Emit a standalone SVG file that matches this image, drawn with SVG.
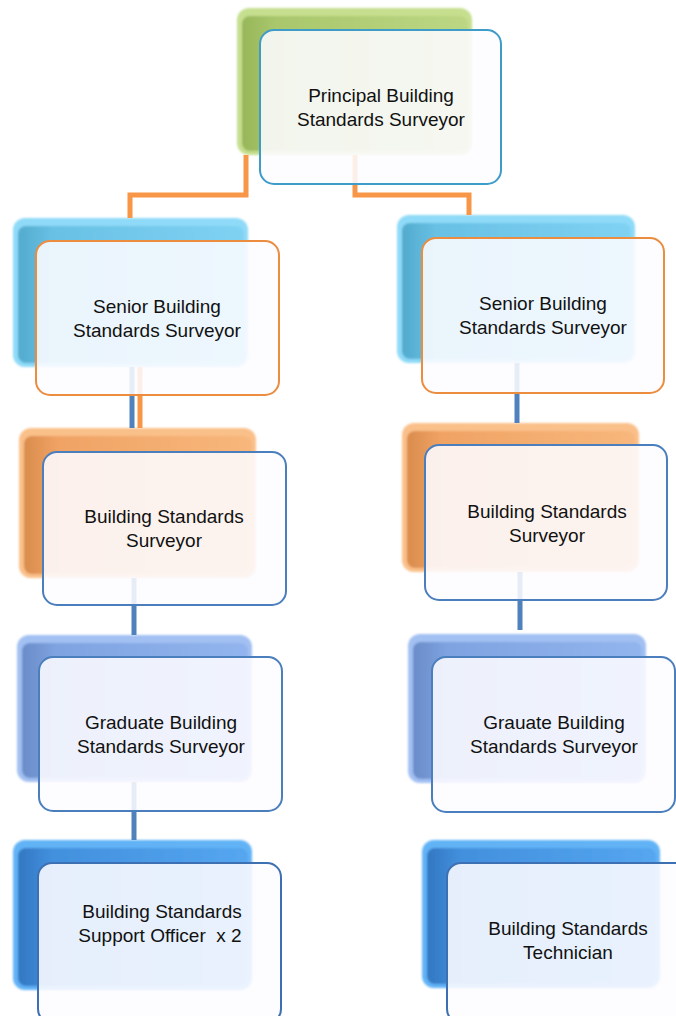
<svg xmlns="http://www.w3.org/2000/svg" width="676" height="1016" viewBox="0 0 676 1016">
<style>
.front{fill:#fdfcff;fill-opacity:0.88;stroke-width:2}
.lbl{font-family:"Liberation Sans",Arial,sans-serif;font-size:19px;fill:#111;text-anchor:middle;white-space:pre}
.c-or{stroke:#f79646;stroke-width:5;fill:none}
.c-bl{stroke:#4f81bd;stroke-width:5;fill:none}
</style>
<defs>
<filter id="soft" x="-5%" y="-5%" width="110%" height="110%"><feGaussianBlur stdDeviation="0.9"/></filter>
<linearGradient id="gGreen" x1="0" y1="0" x2="1" y2="0"><stop offset="0" stop-color="#97b65a"/><stop offset="0.15" stop-color="#a9c76c"/><stop offset="1" stop-color="#bcd784"/></linearGradient>
<linearGradient id="gSky" x1="0" y1="0" x2="1" y2="0"><stop offset="0" stop-color="#52aacd"/><stop offset="0.15" stop-color="#68c1e5"/><stop offset="1" stop-color="#80d2f3"/></linearGradient>
<linearGradient id="gOr" x1="0" y1="0" x2="1" y2="0"><stop offset="0" stop-color="#d98c4c"/><stop offset="0.15" stop-color="#f0a364"/><stop offset="1" stop-color="#f8b77c"/></linearGradient>
<linearGradient id="gPer" x1="0" y1="0" x2="1" y2="0"><stop offset="0" stop-color="#6a8cc8"/><stop offset="0.15" stop-color="#7ea3e0"/><stop offset="1" stop-color="#93b5ee"/></linearGradient>
<linearGradient id="gBlu" x1="0" y1="0" x2="1" y2="0"><stop offset="0" stop-color="#3377c2"/><stop offset="0.15" stop-color="#4290de"/><stop offset="1" stop-color="#55a6f0"/></linearGradient>
</defs>

<!-- back (decorative) boxes -->
<g id="backs" filter="url(#soft)">
<g id="back-principal"><rect x="237" y="8" width="235" height="147" rx="12" fill="#c6df8f"/><rect x="242" y="16" width="226" height="135" rx="8" fill="url(#gGreen)"/></g>
<g id="back-senior-l"><rect x="13" y="218" width="235" height="149" rx="12" fill="#8fdaf8"/><rect x="18" y="226" width="226" height="137" rx="8" fill="url(#gSky)"/></g>
<g id="back-senior-r"><rect x="397" y="215" width="238" height="148" rx="12" fill="#8fdaf8"/><rect x="402" y="223" width="229" height="136" rx="8" fill="url(#gSky)"/></g>
<g id="back-bss-l"><rect x="19" y="428" width="237" height="150" rx="12" fill="#fac08a"/><rect x="24" y="436" width="228" height="138" rx="8" fill="url(#gOr)"/></g>
<g id="back-bss-r"><rect x="402" y="423" width="237" height="149" rx="12" fill="#fac08a"/><rect x="407" y="431" width="228" height="137" rx="8" fill="url(#gOr)"/></g>
<g id="back-grad-l"><rect x="17" y="635" width="235" height="147" rx="12" fill="#a2c0f2"/><rect x="22" y="643" width="226" height="135" rx="8" fill="url(#gPer)"/></g>
<g id="back-grad-r"><rect x="408" y="634" width="238" height="149" rx="12" fill="#a2c0f2"/><rect x="413" y="642" width="229" height="137" rx="8" fill="url(#gPer)"/></g>
<g id="back-support"><rect x="13" y="840" width="239" height="150" rx="12" fill="#62b3f6"/><rect x="18" y="848" width="230" height="138" rx="8" fill="url(#gBlu)"/></g>
<g id="back-tech"><rect x="422" y="840" width="238" height="148" rx="12" fill="#62b3f6"/><rect x="427" y="848" width="229" height="136" rx="8" fill="url(#gBlu)"/></g>
</g>

<!-- connectors -->
<g id="connectors">
<path class="c-or" d="M246 155 V195 H130 V218"/>
<path class="c-or" d="M355 155 V195 H469 V215"/>
<path class="c-bl" d="M132 367 V428"/>
<path class="c-or" d="M140 367 V428"/>
<path class="c-bl" d="M517 363 V423"/>
<path class="c-bl" d="M134 578 V635"/>
<path class="c-bl" d="M520 572 V630"/>
<path class="c-bl" d="M134 782 V840"/>
</g>

<g id="node-principal">
<rect class="front" x="260" y="30" width="241" height="154" rx="14" stroke="#3e9cc9"/>
<text class="lbl" x="381" y="102">Principal Building</text>
<text class="lbl" x="381" y="126">Standards Surveyor</text>
</g>
<g id="node-senior-l">
<rect class="front" x="36" y="241" width="243" height="154" rx="14" stroke="#ec8c3f"/>
<text class="lbl" x="157" y="313">Senior Building</text>
<text class="lbl" x="157" y="337">Standards Surveyor</text>
</g>
<g id="node-senior-r">
<rect class="front" x="422" y="238" width="242" height="155" rx="14" stroke="#ec8c3f"/>
<text class="lbl" x="543" y="310">Senior Building</text>
<text class="lbl" x="543" y="334">Standards Surveyor</text>
</g>
<g id="node-bss-l">
<rect class="front" x="43" y="452" width="243" height="153" rx="14" stroke="#4a7ebd"/>
<text class="lbl" x="164" y="523">Building Standards</text>
<text class="lbl" x="164" y="547">Surveyor</text>
</g>
<g id="node-bss-r">
<rect class="front" x="425" y="445" width="242" height="155" rx="14" stroke="#4a7ebd"/>
<text class="lbl" x="547" y="518">Building Standards</text>
<text class="lbl" x="547" y="542">Surveyor</text>
</g>
<g id="node-grad-l">
<rect class="front" x="39" y="657" width="243" height="154" rx="14" stroke="#4a7ebd"/>
<text class="lbl" x="161" y="729">Graduate Building</text>
<text class="lbl" x="161" y="753">Standards Surveyor</text>
</g>
<g id="node-grad-r">
<rect class="front" x="432" y="657" width="243" height="155" rx="14" stroke="#4a7ebd"/>
<text class="lbl" x="554" y="729">Grauate Building</text>
<text class="lbl" x="554" y="753">Standards Surveyor</text>
</g>
<g id="node-support">
<rect class="front" x="38" y="863" width="243" height="160" rx="14" stroke="#3d70b2"/>
<text class="lbl" x="162" y="918">Building Standards</text>
<text class="lbl" x="160" y="942">Support Officer  x 2</text>
</g>
<g id="node-tech">
<rect class="front" x="447" y="863" width="245" height="160" rx="14" stroke="#3d70b2"/>
<text class="lbl" x="568" y="935">Building Standards</text>
<text class="lbl" x="568" y="959">Technician</text>
</g>
</svg>
